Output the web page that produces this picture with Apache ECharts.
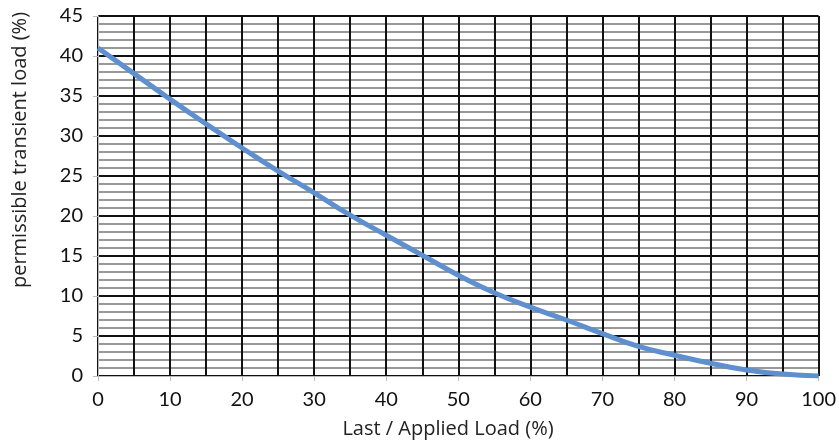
<!DOCTYPE html>
<html>
<head>
<meta charset="utf-8">
<script src="https://cdn.jsdelivr.net/npm/echarts@6/dist/echarts.min.js"></script>
<style>html,body{margin:0;padding:0;background:#fff}#c{width:839px;height:446px}</style>
</head>
<body>
<div id="c"></div>
<script>
const xValues = [0, 5, 10, 15, 20, 25, 30, 35, 40, 45, 50, 55, 60, 65, 70, 75, 80, 85, 90, 95, 100];
const yValues = [41, 37.8, 34.6, 31.5, 28.5, 25.6, 22.9, 20.1, 17.6, 15.1, 12.6, 10.4, 8.6, 7.0, 5.3, 3.7, 2.6, 1.6, 0.75, 0.25, 0];
const xTitle = 'Last / Applied Load (%)';
const yTitle = 'permissible transient load (%)';

const chart = echarts.init(document.getElementById('c'));
const font = 'Lato, "Open Sans", sans-serif';
const nameFont = '"Open Sans", Lato, sans-serif';
chart.setOption({
  animation: false,
  grid: { left: 98, right: 15, top: 16, bottom: 70 },
  graphic: [
    { type: 'text', x: 448, y: 429, style: { text: xTitle, font: '20px ' + nameFont, fill: '#222', textAlign: 'center', textVerticalAlign: 'middle' } },
    { type: 'text', x: 20, y: 150, rotation: Math.PI / 2, style: { text: yTitle, font: '20px ' + nameFont, fill: '#222', textAlign: 'center', textVerticalAlign: 'middle' } }
  ],
  xAxis: {
    type: 'value', min: 0, max: 100, interval: 10,
    axisLine: { show: true, lineStyle: { color: '#bbb', width: 1 } },
    axisTick: { show: true, length: 5, lineStyle: { color: '#bbb' } },
    axisLabel: { fontFamily: font, fontSize: 20, color: '#111', margin: 14 },
    splitLine: { show: true, lineStyle: { color: '#111', width: 2 } },
    minorTick: { show: false, splitNumber: 2 },
    minorSplitLine: { show: true, lineStyle: { color: '#111', width: 2 } }
  },
  yAxis: {
    type: 'value', min: 0, max: 45, interval: 5,
    axisLine: { show: true, lineStyle: { color: '#bbb', width: 1 } },
    axisTick: { show: true, length: 5, lineStyle: { color: '#bbb' } },
    axisLabel: { fontFamily: font, fontSize: 20, color: '#111', margin: 15 },
    splitLine: { show: true, lineStyle: { color: '#111', width: 2 } },
    minorTick: { show: false, splitNumber: 5 },
    minorSplitLine: { show: true, lineStyle: { color: '#777', width: 1.5 } }
  },
  series: [{
    type: 'line', smooth: true, showSymbol: false,
    data: xValues.map((x, i) => [x, yValues[i]]),
    lineStyle: { color: '#5e8fcf', width: 5 },
    z: 5
  }]
});
</script>
</body>
</html>
